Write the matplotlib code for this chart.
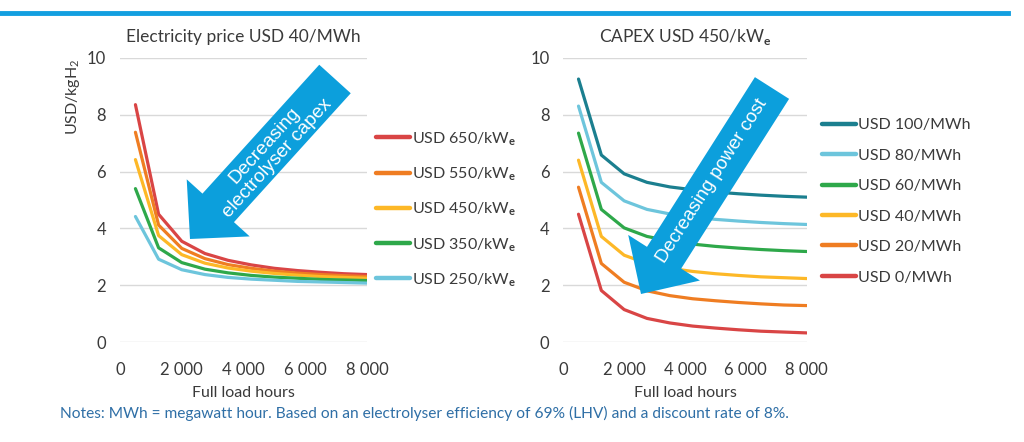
import numpy as np
import matplotlib
matplotlib.use("Agg")
import matplotlib.pyplot as plt
from matplotlib.patches import Polygon
from matplotlib.lines import Line2D

# ==========================================
# data
# ==========================================
hours = [500, 1250, 2000, 2750, 3500, 4250, 5000, 5750, 6500, 7250, 8000]

# left: electricity price USD 40/MWh, varying capex
capex_labels = ["USD 650/kW$_\\mathbf{e}$", "USD 550/kW$_\\mathbf{e}$", "USD 450/kW$_\\mathbf{e}$",
                "USD 350/kW$_\\mathbf{e}$", "USD 250/kW$_\\mathbf{e}$"]
capex_650 = [8.35, 4.50, 3.55, 3.12, 2.88, 2.72, 2.60, 2.52, 2.46, 2.41, 2.38]
capex_550 = [7.38, 4.12, 3.30, 2.94, 2.73, 2.60, 2.50, 2.43, 2.38, 2.34, 2.31]
capex_450 = [6.42, 3.75, 3.08, 2.78, 2.61, 2.50, 2.42, 2.36, 2.31, 2.28, 2.25]
capex_350 = [5.40, 3.32, 2.80, 2.57, 2.44, 2.35, 2.29, 2.25, 2.21, 2.19, 2.17]
capex_250 = [4.42, 2.92, 2.55, 2.38, 2.28, 2.22, 2.18, 2.14, 2.12, 2.10, 2.08]

# right: capex USD 450/kWe, varying power price
power_labels = ["USD 100/MWh", "USD 80/MWh", "USD 60/MWh", "USD 40/MWh", "USD 20/MWh", "USD 0/MWh"]
power_100 = [9.25, 6.58, 5.92, 5.62, 5.46, 5.36, 5.28, 5.22, 5.17, 5.13, 5.10]
power_80 = [8.30, 5.62, 4.97, 4.67, 4.51, 4.40, 4.32, 4.26, 4.21, 4.17, 4.14]
power_60 = [7.35, 4.67, 4.02, 3.72, 3.56, 3.45, 3.37, 3.31, 3.26, 3.22, 3.19]
power_40 = [6.40, 3.72, 3.06, 2.77, 2.60, 2.49, 2.41, 2.35, 2.30, 2.27, 2.24]
power_20 = [5.45, 2.77, 2.11, 1.81, 1.64, 1.53, 1.46, 1.40, 1.35, 1.31, 1.29]
power_0 = [4.50, 1.82, 1.15, 0.84, 0.68, 0.57, 0.50, 0.44, 0.39, 0.36, 0.33]

left_colors = ["#d94545", "#ef7d22", "#fdb827", "#2ea84a", "#6dc5dc"]
right_colors = ["#1b7f8f", "#6dc5dc", "#2ea84a", "#fdb827", "#ef7d22", "#d94545"]

TXT = "#3a3a3a"
BLUE = "#0c9fdc"
W, H = 1024, 442

plt.rcParams['font.family'] = ['Lato', 'DejaVu Sans']
plt.rcParams['mathtext.fontset'] = 'custom'
plt.rcParams['mathtext.rm'] = 'Lato'
plt.rcParams['mathtext.bf'] = 'Lato:bold'

fig = plt.figure(figsize=(W / 100, H / 100), dpi=100)


def px(x0, y0, x1, y1):
    # pixel box (y down) -> figure fraction rect
    return [x0 / W, 1 - y1 / H, (x1 - x0) / W, (y1 - y0) / H]


def style_axes(ax, title):
    ax.set_xlim(0, 8000)
    ax.set_ylim(0, 10)
    ax.set_xticks([0, 2000, 4000, 6000, 8000])
    ax.set_xticklabels(["0", "2 000", "4 000", "6 000", "8 000"])
    ax.set_yticks([0, 2, 4, 6, 8, 10])
    ax.grid(axis='y', color="#d9d9d9", lw=1)
    ax.set_axisbelow(True)
    for s in ax.spines.values():
        s.set_visible(False)
    ax.tick_params(length=0, labelsize=12, colors=TXT)
    ax.tick_params(axis='x', pad=14)
    ax.tick_params(axis='y', pad=10)
    ax.set_xlabel("Full load hours", fontsize=11.5, color=TXT, labelpad=6)
    ax.set_title(title, fontsize=12.5, color=TXT, pad=11)


# --------------------------
# left panel
# --------------------------
ax1 = fig.add_axes(px(120, 57.7, 367, 342.3))
left_series = [capex_650, capex_550, capex_450, capex_350, capex_250]
for vals, c, lab in zip(left_series, left_colors, capex_labels):
    ax1.plot(hours, vals, color=c, lw=2.3, label=lab, solid_capstyle='round')
style_axes(ax1, "Electricity price USD 40/MWh")
leg1 = ax1.legend(loc='upper left', bbox_to_anchor=(376 / W, 1 - 130 / H), bbox_transform=fig.transFigure,
                  frameon=False, fontsize=11.5, handlelength=2.1, handletextpad=0.15,
                  labelspacing=1.1, borderaxespad=0, borderpad=0)
for t in leg1.get_texts():
    t.set_color(TXT)
for l in leg1.get_lines():
    l.set_linewidth(3.2)

fig.text(73 / W, 1 - 97 / H, "USD/kgH$_2$", rotation=90, ha='center', va='center', fontsize=11.5, color=TXT)

# --------------------------
# right panel
# --------------------------
ax2 = fig.add_axes(px(563.3, 57.7, 806.7, 342.3))
right_series = [power_100, power_80, power_60, power_40, power_20, power_0]
for vals, c, lab in zip(right_series, right_colors, power_labels):
    ax2.plot(hours, vals, color=c, lw=2.3, label=lab, solid_capstyle='round')
style_axes(ax2, "CAPEX USD 450/kW$_\\mathbf{e}$")
leg2 = ax2.legend(loc='upper left', bbox_to_anchor=(822 / W, 1 - 118 / H), bbox_transform=fig.transFigure,
                  frameon=False, fontsize=11.5, handlelength=2.1, handletextpad=0.15,
                  labelspacing=1.02, borderaxespad=0, borderpad=0)
for t in leg2.get_texts():
    t.set_color(TXT)
for l in leg2.get_lines():
    l.set_linewidth(3.2)


# --------------------------
# big block arrows
# --------------------------
def block_arrow(tail, tip, width, head_w, head_len):
    tx, ty = tail
    hx, hy = tip
    d = np.hypot(hx - tx, hy - ty)
    ux, uy = (hx - tx) / d, (hy - ty) / d
    nx, ny = -uy, ux
    bx, by = hx - ux * head_len, hy - uy * head_len
    pts = [
        (tx + nx * width / 2, ty + ny * width / 2),
        (bx + nx * width / 2, by + ny * width / 2),
        (bx + nx * head_w / 2, by + ny * head_w / 2),
        (hx, hy),
        (bx - nx * head_w / 2, by - ny * head_w / 2),
        (bx - nx * width / 2, by - ny * width / 2),
        (tx - nx * width / 2, ty - ny * width / 2),
    ]
    pts = [(x / W, 1 - y / H) for x, y in pts]
    fig.add_artist(Polygon(pts, closed=True, transform=fig.transFigure, facecolor=BLUE,
                           edgecolor='none', zorder=5))


block_arrow((335, 79), (190, 239), 42.5, 85, 42)
fig.text(271 / W, 1 - 152 / H, "Decreasing\nelectrolyser capex", rotation=47.8, rotation_mode='anchor',
         ha='center', va='center', color='white', fontsize=13.8, family='Liberation Sans',
         linespacing=1.05, zorder=6)

block_arrow((772, 88), (641, 294), 40.5, 85, 43)
fig.text(712 / W, 1 - 181 / H, "Decreasing power cost", rotation=57.5, rotation_mode='anchor',
         ha='center', va='center', color='white', fontsize=13.6, family='Liberation Sans', zorder=6)

# top rule + note
fig.add_artist(Line2D([0, 1008 / W], [1 - 13 / H, 1 - 13 / H], transform=fig.transFigure,
                      color="#139fe0", lw=3.5))
fig.text(60 / W, 1 - 413 / H,
         "Notes: MWh = megawatt hour. Based on an electrolyser efficiency of 69% (LHV) and a discount rate of 8%.",
         fontsize=11.2, color="#2f6fa6", ha='left', va='center')

fig.savefig("out.png", dpi=100)
